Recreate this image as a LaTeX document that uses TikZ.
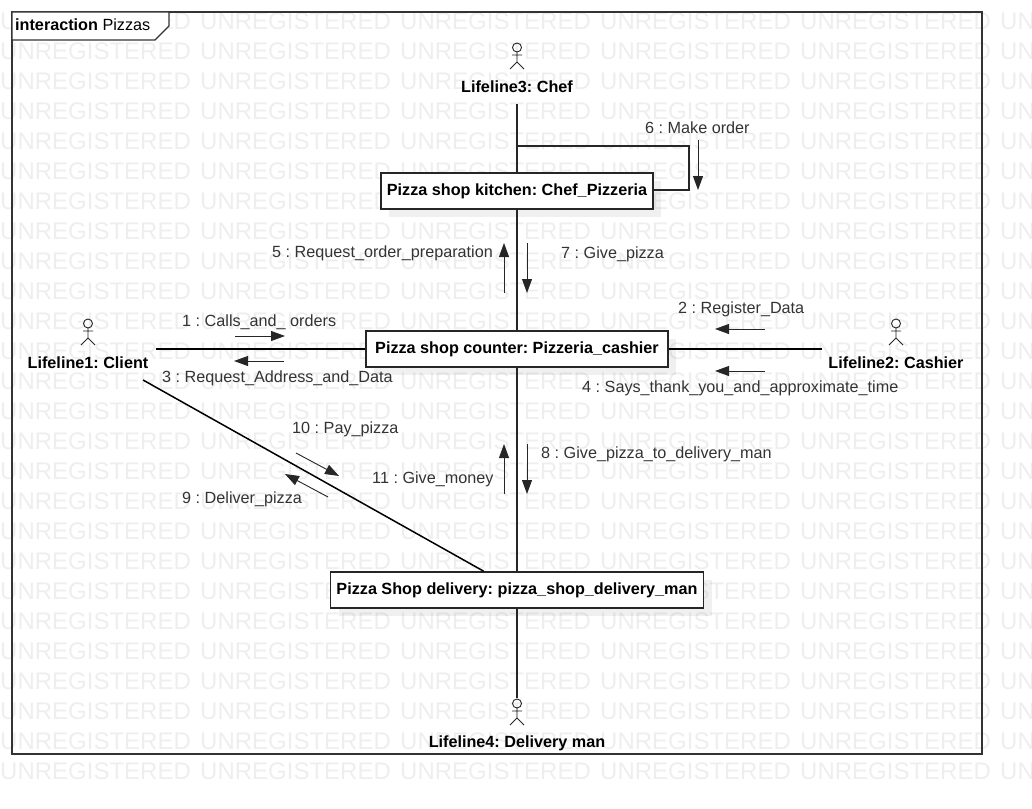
\documentclass[tikz,border=0pt]{standalone}
\usepackage{fontspec}
\setmainfont{Liberation Sans}
\usetikzlibrary{arrows.meta,shadows}
\frenchspacing

\tikzset{
	watermark/.style={text=black!6.5, font=\fontsize{24}{24}\selectfont, inner sep=0pt, anchor=west},
	framebox/.style={draw=black!80, line width=1.3pt},
	partbox/.style={draw=black!85, fill=white, line width=1.5pt, minimum height=36pt, inner sep=0pt, font=\fontsize{16.2}{16}\selectfont\bfseries,
		drop shadow={shadow xshift=8pt, shadow yshift=-8pt, opacity=.06, fill=black}},
	lifeline/.style={minimum height=62pt, inner sep=0pt, outer sep=0pt},
	lifename/.style={font=\fontsize{16.2}{16}\selectfont\bfseries, inner sep=0pt},
	figure/.style={draw=black!85, line width=.9pt},
	link/.style={draw=black!85, line width=1.4pt},
	thicklink/.style={draw=black, line width=1.5pt},
	message/.style={draw=black!85, line width=.9pt, -{Triangle[length=14pt,width=10pt]}},
	msgtext/.style={text=black!80, font=\fontsize{16.2}{16}\selectfont, inner sep=0pt, anchor=west, text height=12pt, text depth=3.5pt},
}

\begin{document}
\begin{tikzpicture}[x=1pt,y=-1pt]
	\useasboundingbox (0,0) rectangle (1032,808);
	
	% Watermark
	\begin{scope}
		\clip (0,0) rectangle (1032,808);
		\foreach \row in {0,...,25}
			\foreach \col in {0,...,5}
				\node[watermark] (mark\row-\col) at (\col*200, 21+\row*30) {UNREGISTERED};
	\end{scope}
	
	% Frame
	\draw[framebox] (12,12) rectangle (982,754);
	\draw[framebox, fill=white] (12,12) -- (169,12) -- (169,26) -- (155,40) -- (12,40) -- cycle;
	\node[msgtext, text=black] (title) at (15,26.5) {\textbf{interaction} Pizzas};
	
	% Parts
	\node[partbox, minimum width=272pt] (kitchen) at (517,191) {Pizza shop kitchen: Chef\_Pizzeria};
	\node[partbox, minimum width=302pt] (counter) at (517,349) {Pizza shop counter: Pizzeria\_cashier};
	\node[partbox, minimum width=373pt] (delivery) at (517,590) {Pizza Shop delivery: pizza\_shop\_delivery\_man};
	
	% Lifelines
	\node[lifeline, minimum width=136pt] (client) at (88,349) {};
	\node[lifeline, minimum width=148pt] (cashier) at (896,349) {};
	\node[lifeline, minimum width=120pt] (chef) at (517,73) {};
	\node[lifeline, minimum width=176pt] (courier) at (517,729) {};
	\node[lifename] (clientname) at (88,363) {Lifeline1: Client};
	\node[lifename] (cashiername) at (896,363) {Lifeline2: Cashier};
	\node[lifename] (chefname) at (517,87) {Lifeline3: Chef};
	\node[lifename] (couriername) at (517,743) {Lifeline4: Delivery man};
	\foreach \who in {client,cashier,chef,courier}
		\draw[figure, shift={(\who.north)}] (0,5.5) circle (4.5pt) (0,10) -- (0,20) (-5,13) -- (5,13) (-7,27) -- (0,20) -- (7,27);
	
	% Links
	\draw[link] (chef) -- (kitchen);
	\draw[link] (kitchen) -- (counter);
	\draw[link] (counter) -- (delivery);
	\draw[link] (delivery) -- (courier);
	\draw[thicklink] (client) -- (counter);
	\draw[thicklink] (counter) -- (cashier);
	\draw[thicklink] (client) -- (delivery);
	
	% Self link of the kitchen
	\coordinate (L0) at (517,146);
	\coordinate (L1) at (689,146);
	\coordinate (L2) at (689,190);
	\draw[link] (L0) -- (L1) -- (L2) -- (L2 -| kitchen.east);
	
	% Message arrows
	\coordinate (M1a) at (235,336);  \coordinate (M1b) at (285,336);
	\coordinate (M2a) at (765,329);  \coordinate (M2b) at (715,329);
	\coordinate (M3a) at (284,361);  \coordinate (M3b) at (234,361);
	\coordinate (M4a) at (765,371);  \coordinate (M4b) at (715,371);
	\coordinate (M5a) at (504,293);  \coordinate (M5b) at (504,243);
	\coordinate (M6a) at (698,140);  \coordinate (M6b) at (698,190);
	\coordinate (M7a) at (527,243);  \coordinate (M7b) at (527,293);
	\coordinate (M8a) at (527,444);  \coordinate (M8b) at (527,494);
	\coordinate (M9a) at (328,497);  \coordinate (M9b) at (285,474);
	\coordinate (M10a) at (296,453); \coordinate (M10b) at (339,476);
	\coordinate (M11a) at (504,494); \coordinate (M11b) at (504,444);
	\foreach \m in {1,...,11}
		\draw[message] (M\m a) -- (M\m b);
	
	% Message labels
	\node[msgtext] (text1) at (182,322.5) {1 : Calls\_and\_ orders};
	\node[msgtext] (text2) at (678,309.5) {2 : Register\_Data};
	\node[msgtext] (text3) at (162,378.5) {3 : Request\_Address\_and\_Data};
	\node[msgtext] (text4) at (582,388.5) {4 : Says\_thank\_you\_and\_approximate\_time};
	\node[msgtext] (text5) at (272,253.5) {5 : Request\_order\_preparation};
	\node[msgtext] (text6) at (645,129.5) {6 : Make order};
	\node[msgtext] (text7) at (561,254.5) {7 : Give\_pizza};
	\node[msgtext] (text8) at (541,454.5) {8 : Give\_pizza\_to\_delivery\_man};
	\node[msgtext] (text9) at (182,499.5) {9 : Deliver\_pizza};
	\node[msgtext] (text10) at (292,429.5) {10 : Pay\_pizza};
	\node[msgtext] (text11) at (372,479.5) {11 : Give\_money};
\end{tikzpicture}
\end{document}
